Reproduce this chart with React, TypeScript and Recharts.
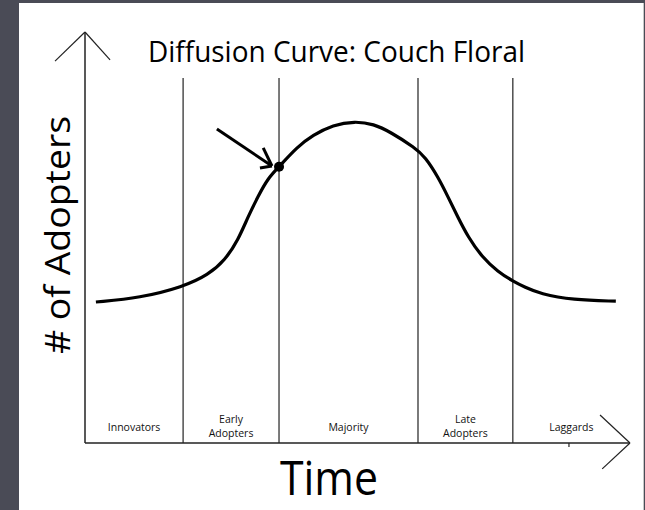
import {
  ComposedChart,
  Line,
  XAxis,
  YAxis,
  ReferenceLine,
  ReferenceDot,
} from "recharts";

// curve (time vs. # of adopters, arbitrary 0-100 units)
const curveTime = [
  2.0, 10.1, 18.0, 22.6, 25.7, 28.1, 29.9, 31.7, 33.6, 35.6, 38.9, 41.8, 45.5,
  49.5, 53.0, 56.0, 60.6, 62.4, 64.8, 66.6, 68.4, 70.3, 72.8, 75.8, 78.5, 80.7,
  83.5, 89.5, 97.4,
];
const curveAdopters = [
  34.3, 35.3, 38.0, 40.9, 44.5, 49.4, 55.0, 59.9, 64.5, 67.2, 72.0, 74.9, 77.4,
  78.3, 77.6, 75.7, 71.8, 69.6, 64.7, 59.9, 55.0, 50.1, 45.3, 41.6, 39.4, 37.9,
  36.3, 34.8, 34.5,
];

const segmentLabels = [
  ["Innovators"],
  ["Early", "Adopters"],
  ["Majority"],
  ["Late", "Adopters"],
  ["Laggards"],
];
const segmentBounds = [0, 18.0, 35.6, 61.1, 78.5, 100];
const dividerTop = 88.8;

const marker = { time: 35.6, adopters: 67.2 };
const pointerFrom = { time: 24.2, adopters: 76.4 };
const pointerTo = { time: 34.3, adopters: 67.4 };
const pointerHeadA = { time: 32.7, adopters: 71.8 };
const pointerHeadB = { time: 32.1, adopters: 66.9 };

const data = curveTime.map((t, i) => ({ time: t, adopters: curveAdopters[i] }));
const centers = segmentLabels.map(
  (_, i) => (segmentBounds[i] + segmentBounds[i + 1]) / 2
);

const FONT = "'Open Sans', 'Noto Sans', sans-serif";

const SegmentTick = (props) => {
  const { x, y, index } = props;
  const lines = segmentLabels[index] || [];
  return (
    <g>
      {lines.map((l, i) => (
        <text
          key={i}
          x={x}
          y={lines.length === 1 ? y - 12 : y - 20 + i * 14}
          textAnchor="middle"
          fontSize={10.5}
          fontFamily={FONT}
          fill="#111"
        >
          {l}
        </text>
      ))}
    </g>
  );
};

const seg = (a, b) => [
  { x: a.time, y: a.adopters },
  { x: b.time, y: b.adopters },
];

const thin = { stroke: "#222", strokeWidth: 1.2, ifOverflow: "visible" };
const thick = { stroke: "#000", strokeWidth: 3, ifOverflow: "visible" };

export default function App() {
  return (
    <div
      style={{
        position: "absolute",
        left: 0,
        top: 0,
        width: 645,
        height: 510,
        background: "#4a4b56",
        overflow: "hidden",
      }}
    >
      <div
        style={{
          position: "absolute",
          left: 19,
          top: 3,
          width: 624,
          height: 507,
          background: "#fff",
          borderRight: "1px solid #c8c8c8",
        }}
      />
      <div style={{ position: "absolute", left: 0, top: 0 }}>
        <ComposedChart
          width={645}
          height={510}
          data={data}
          margin={{ top: 32, right: 15, bottom: 66, left: 84 }}
        >
          <XAxis
            type="number"
            dataKey="time"
            domain={[0, 100]}
            ticks={centers}
            interval={0}
            tick={<SegmentTick />}
            tickLine={false}
            tickSize={0}
            tickMargin={0}
            height={1}
            axisLine={{ stroke: "#222", strokeWidth: 1.5 }}
          />
          <YAxis
            type="number"
            domain={[0, 100]}
            width={1}
            tick={false}
            tickLine={false}
            axisLine={{ stroke: "#222", strokeWidth: 1.5 }}
          />
          {segmentBounds.slice(1, -1).map((b) => (
            <ReferenceLine
              key={b}
              segment={[
                { x: b, y: 0 },
                { x: b, y: dividerTop },
              ]}
              stroke="#333"
              strokeWidth={1.3}
              ifOverflow="visible"
            />
          ))}
          {/* axis arrow heads */}
          <ReferenceLine segment={[{ x: -5.5, y: 92.9 }, { x: 0, y: 100 }]} {...thin} />
          <ReferenceLine segment={[{ x: 0, y: 100 }, { x: 4.6, y: 93.2 }]} {...thin} />
          <ReferenceLine segment={[{ x: 94.5, y: 6.8 }, { x: 100, y: 0 }]} {...thin} />
          <ReferenceLine segment={[{ x: 100, y: 0 }, { x: 94.9, y: -6.3 }]} {...thin} />
          <ReferenceLine segment={[{ x: 88.8, y: 0 }, { x: 88.8, y: -1 }]} {...thin} />
          <Line
            type="basis"
            dataKey="adopters"
            stroke="#000"
            strokeWidth={3.2}
            dot={false}
            isAnimationActive={false}
          />
          {/* pointer arrow */}
          <ReferenceLine segment={seg(pointerFrom, pointerTo)} {...thick} />
          <ReferenceLine segment={seg(pointerHeadA, pointerTo)} {...thick} />
          <ReferenceLine segment={seg(pointerHeadB, pointerTo)} {...thick} />
          <ReferenceDot
            x={marker.time}
            y={marker.adopters}
            r={5}
            fill="#000"
            stroke="none"
            ifOverflow="visible"
          />
        </ComposedChart>
      </div>
      <svg
        width={645}
        height={510}
        style={{ position: "absolute", left: 0, top: 0, pointerEvents: "none" }}
      >
        <text
          x={148}
          y={62}
          fontSize={29}
          fontFamily={FONT}
          fill="#000"
          textLength={377}
          lengthAdjust="spacingAndGlyphs"
        >
          Diffusion Curve: Couch Floral
        </text>
        <text
          x={280}
          y={495}
          fontSize={48}
          fontFamily={FONT}
          fill="#000"
          textLength={98}
          lengthAdjust="spacingAndGlyphs"
        >
          Time
        </text>
        <text
          transform="translate(70, 235) rotate(-90)"
          x={0}
          y={0}
          textAnchor="middle"
          fontSize={34}
          fontFamily={FONT}
          fill="#000"
          textLength={238}
          lengthAdjust="spacingAndGlyphs"
        >
          # of Adopters
        </text>
      </svg>
    </div>
  );
}
